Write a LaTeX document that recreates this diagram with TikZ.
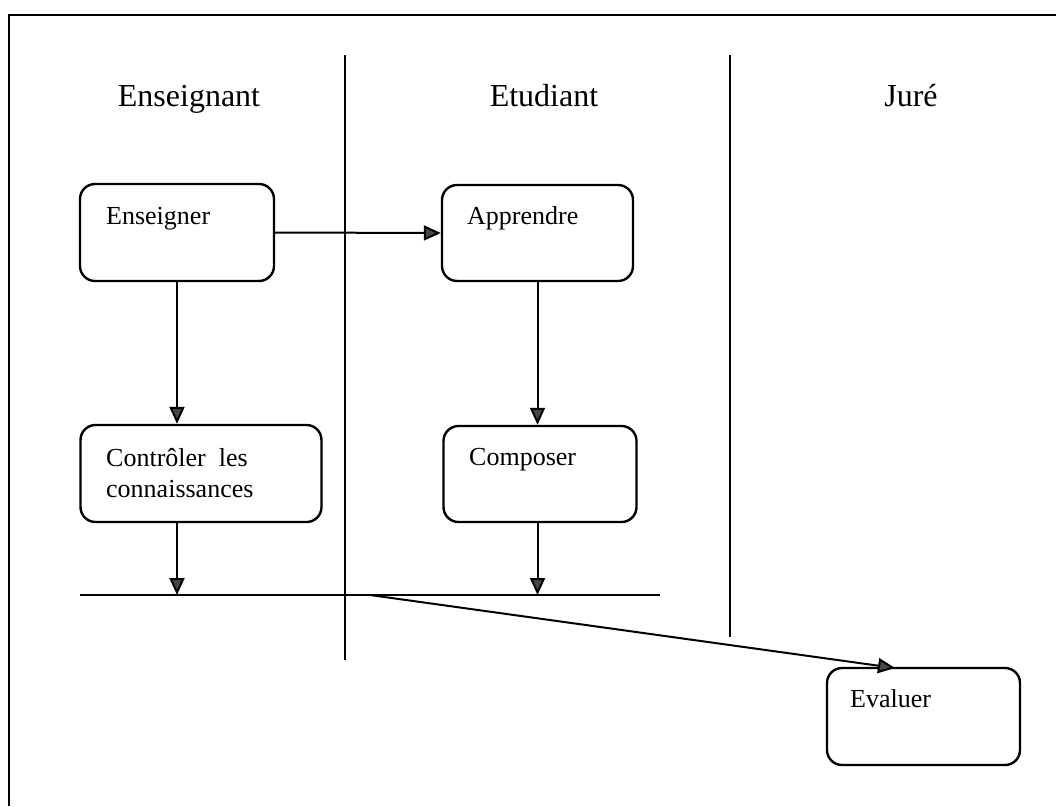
\documentclass[tikz,border=0pt]{standalone}
\usepackage{fontspec}
\setmainfont{Liberation Serif}
\usetikzlibrary{arrows.meta}
\begin{document}
\begin{tikzpicture}[x=1pt,y=-1pt,
  frame/.style={line width=2.4pt},
  lane/.style={line width=2.2pt},
  activity/.style={draw, line width=2.4pt, rounded corners=15pt, inner sep=0pt},
  header/.style={anchor=base, inner sep=0pt, font=\fontsize{32}{38}\selectfont},
  acttext/.style={anchor=base west, inner sep=0pt, align=left,
    font=\fontsize{26}{31}\selectfont},
  flow/.style={line width=2pt,
    -{Triangle[length=17pt,width=15pt,fill=black!72]}},
  joinbar/.style={line width=2.2pt}]
\useasboundingbox (0,0) rectangle (1056,806);

% outer frame (top and left edges)
\coordinate (fTL) at (9,15);
\coordinate (fTR) at (1056,15);
\coordinate (fBL) at (9,806);
\draw[frame] (fTR) -- (fTL) -- (fBL);

% swimlane separators
\coordinate (l1top) at (345,55);
\coordinate (l1bot) at (345,660);
\coordinate (l2top) at (730,55);
\coordinate (l2bot) at (730,637);
\draw[lane] (l1top) -- (l1bot);
\draw[lane] (l2top) -- (l2bot);

% lane headers
\node[header] (hEns) at (189,106) {Enseignant};
\node[header] (hEtu) at (544,106) {Etudiant};
\node[header] (hJur) at (911,106) {Juré};

% activities
\node[activity, minimum width=194pt, minimum height=97pt] (ens) at (177,232.5) {};
\node[acttext] (ensT) at (106,224) {Enseigner};

\node[activity, minimum width=191pt, minimum height=96pt] (app) at (537.5,233) {};
\node[acttext] (appT) at (467,224) {Apprendre};

\node[activity, minimum width=241pt, minimum height=97pt] (ctl) at (201,473.5) {};
\node[acttext] (ctlT) at (106,497) {Contrôler\ \ les\\connaissances};

\node[activity, minimum width=193pt, minimum height=96pt] (cmp) at (540,474) {};
\node[acttext] (cmpT) at (469,465) {Composer};

\node[activity, minimum width=193pt, minimum height=97pt] (evl) at (923.5,716.5) {};
\node[acttext] (evlT) at (850,707) {Evaluer};

% synchronisation bar
\coordinate (barL) at (80,595);
\coordinate (barR) at (660,595);
\coordinate (join) at (370,595);
\draw[joinbar] (barL) -- (barR);

% control flow
\draw[flow] (ens.east) -- (app.west);
\draw[flow] (ens.south) -- (ens.south |- ctl.north);
\draw[flow] (app.south) -- (app.south |- cmp.north);
\draw[flow] (ens.south |- ctl.south) -- (ens.south |- barL);
\draw[flow] (app.south |- cmp.south) -- (app.south |- barL);
\coordinate (evlIn) at (895,668);
\draw[flow] (join) -- (evlIn);
\end{tikzpicture}
\end{document}
